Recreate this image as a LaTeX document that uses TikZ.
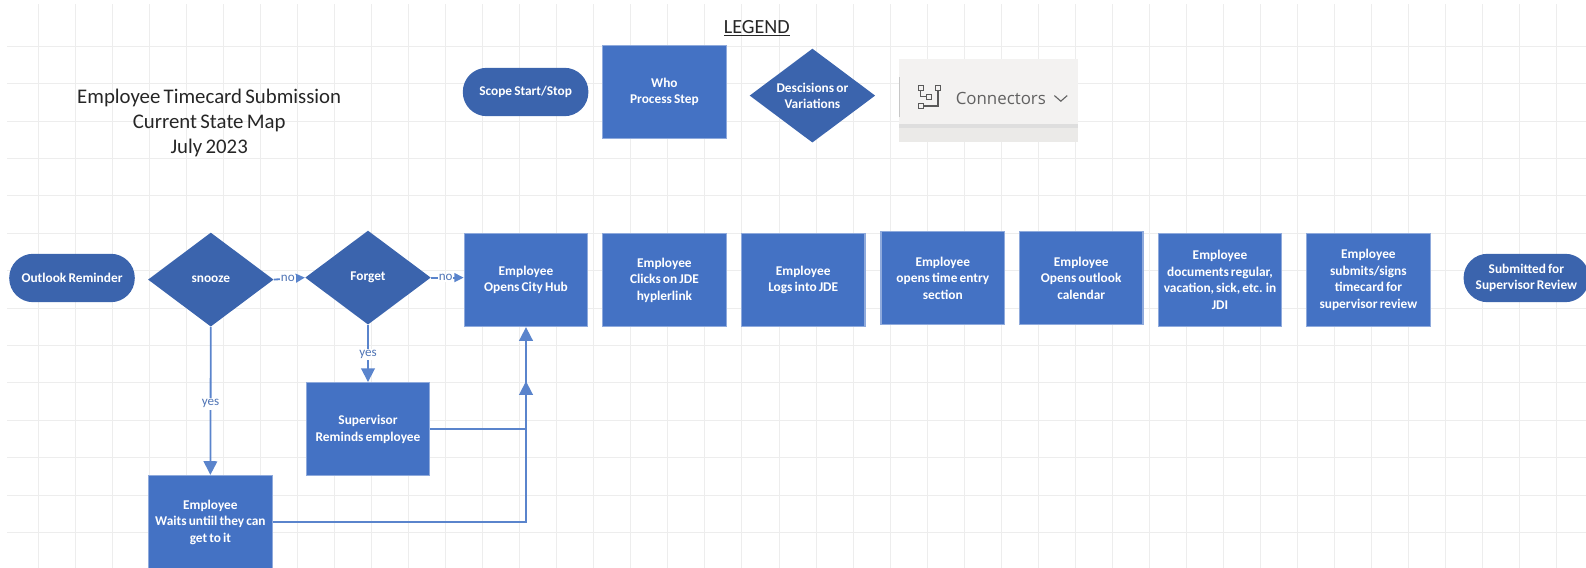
\documentclass[tikz,border=0pt]{standalone}
\usepackage{fontspec}
\setmainfont[WordSpace=0.7]{Carlito}
\newfontfamily\uifont{Open Sans}
\usetikzlibrary{arrows.meta,calc,shapes.geometric}
\definecolor{boxblue}{HTML}{4472C4}
\definecolor{darkblue}{HTML}{3B64AD}
\definecolor{edgeblue}{HTML}{8FAADC}
\definecolor{linkblue}{HTML}{5A84CC}
\definecolor{labelblue}{HTML}{4F74B5}
\definecolor{panelgray}{HTML}{F3F2F1}
\definecolor{panelshade}{HTML}{EBEAE8}

\begin{document}
\begin{tikzpicture}[
  node distance=34.7mm
]

  \path[use as bounding box] (0mm,0mm) rectangle (396.5mm,142mm);

  \tikzstyle{stepnode}=[draw=edgeblue,rectangle,fill=boxblue,thick,minimum height=23.3mm,minimum width=30.9mm,inner sep=0mm,align=center,text=white,font=\fontsize{9.5}{11.7}\selectfont\bfseries]
  \tikzstyle{choicenode}=[draw=none,diamond,fill=darkblue,minimum height=23.5mm,minimum width=31.4mm,inner sep=-3mm,align=center,text=white,font=\fontsize{9.5}{11.7}\selectfont\bfseries]
  \tikzstyle{scopenode}=[draw=none,rectangle,rounded corners=6mm,fill=darkblue,minimum height=12.1mm,minimum width=31.4mm,inner sep=0mm,align=center,text=white,font=\fontsize{9.5}{11.7}\selectfont\bfseries]
  \tikzstyle{titlenode}=[align=center,text=black!85,font=\fontsize{14.8}{17.6}\selectfont]
  \tikzstyle{linklab}=[fill=white,inner sep=0.4mm,text=labelblue,font=\fontsize{9.3}{11}\selectfont]
  \tikzstyle{pointer}=[draw=linkblue,line width=1.3pt,-{Triangle[length=3.4mm,width=3.4mm]}]
  \tikzstyle{shortptr}=[draw=linkblue,line width=1.3pt,-{Triangle[length=2.3mm,width=2.2mm]}]
  \tikzstyle{icondot}=[draw=black!65,thick,rectangle,minimum size=1.3mm,inner sep=0mm]
  \tikzstyle{iconline}=[draw=black!65,thick]

  % grid
  \foreach \k in {0,...,41}
    \draw[black!7,line width=0.4pt] ({9.5mm+\k*9.26mm},0mm) -- ({9.5mm+\k*9.26mm},141mm);
  \foreach \k in {0,...,14}
    \draw[black!7,line width=0.4pt] (1.75mm,{130.5mm-\k*9.35mm}) -- (396.5mm,{130.5mm-\k*9.35mm});

  % legend
  \node[titlenode] (title) at (52.3mm,111.3mm) {Employee Timecard Submission\\Current State Map\\July 2023};
  \node[titlenode,font=\fontsize{14.3}{15}\selectfont] (legend) at (189.2mm,134.9mm) {\underline{LEGEND}};
  \node[scopenode] (scope) at (131.4mm,119mm) {Scope Start/Stop};
  \node[stepnode] (who) at (166.1mm,119mm) {Who\\Process Step};
  \node[choicenode] (choice) at (203.1mm,118.1mm) {Descisions or\\Variations};

  % connectors panel
  \fill[panelgray] (224.8mm,111mm) rectangle (269.6mm,127.3mm);
  \fill[panelshade] (224.8mm,106.4mm) rectangle (269.6mm,111mm);
  \fill[black!13] (224.8mm,109.9mm) rectangle (269.6mm,111mm);
  \draw[black!22] (224.8mm,112.7mm) -- (224.8mm,122.7mm);
  \node[icondot] (icona) at (230.2mm,120mm) {};
  \node[icondot] (iconb) at (234.5mm,120mm) {};
  \node[icondot] (iconc) at (232.3mm,117.8mm) {};
  \node[icondot] (icond) at (230.2mm,115.5mm) {};
  \draw[iconline] (icona) |- (iconc);
  \draw[iconline] (icond) -| (iconb);
  \node[text=black!62,font=\uifont\fontsize{12}{14}\selectfont] (connectors) at (250.2mm,117.5mm) {Connectors};
  \draw[black!62,thick] (263.6mm,118.1mm) -- (265.2mm,116.7mm) -- (266.8mm,118.1mm);

  % nodes
  \node[scopenode] (reminder) at (18mm,72.5mm) {Outlook Reminder};
  \node[choicenode] (snooze) at (52.7mm,72.1mm) {snooze};
  \node[choicenode] (forget) at (92mm,72.6mm) {Forget};
  \node[stepnode] (hub) at (131.5mm,72mm) {Employee\\Opens City Hub};
  \node[stepnode] (jde) at (166.1mm,72mm) {Employee\\Clicks on JDE\\hyplerlink};
  \node[stepnode] (logs) at (200.8mm,72mm) {Employee\\Logs into JDE};
  \node[stepnode] (entry) at (235.7mm,72.5mm) {Employee\\opens time entry\\section};
  \node[stepnode] (calendar) at (270.3mm,72.5mm) {Employee\\Opens outlook\\calendar};
  \node[stepnode] (documents) at (305mm,72mm) {Employee\\documents regular,\\vacation, sick, etc. in\\JDI};
  \node[stepnode] (submits) at (342.1mm,72mm) {Employee\\submits/signs\\timecard for\\supervisor review};
  \node[scopenode] (submitted) at (381.6mm,72.5mm) {Submitted for\\Supervisor Review};
  \node[stepnode] (supervisor) at (92mm,34.7mm) {Supervisor\\Reminds employee};
  \node[stepnode] (waits) at (52.6mm,11.5mm) {Employee\\Waits untiil they can\\get to it};
  \coordinate (merge) at (hub.south |- 0mm,46.7mm);

  % pointers
  \draw[shortptr] (snooze.east) -- node[linklab,pos=0.45,inner sep=0.2mm] {no} (forget.west);
  \draw[shortptr] (forget.east) -- node[linklab,pos=0.45,inner sep=0.2mm] {no} (forget.east -| hub.west);
  \draw[pointer] (snooze.south) -- node[linklab,pos=0.52] {yes} (waits.north);
  \draw[pointer] (forget.south) -- node[linklab,pos=0.52] {yes} (supervisor.north);
  \draw[pointer] (supervisor.east) -| (hub.south);
  \draw[pointer] (waits.east) -| (merge);

\end{tikzpicture}
\end{document}
